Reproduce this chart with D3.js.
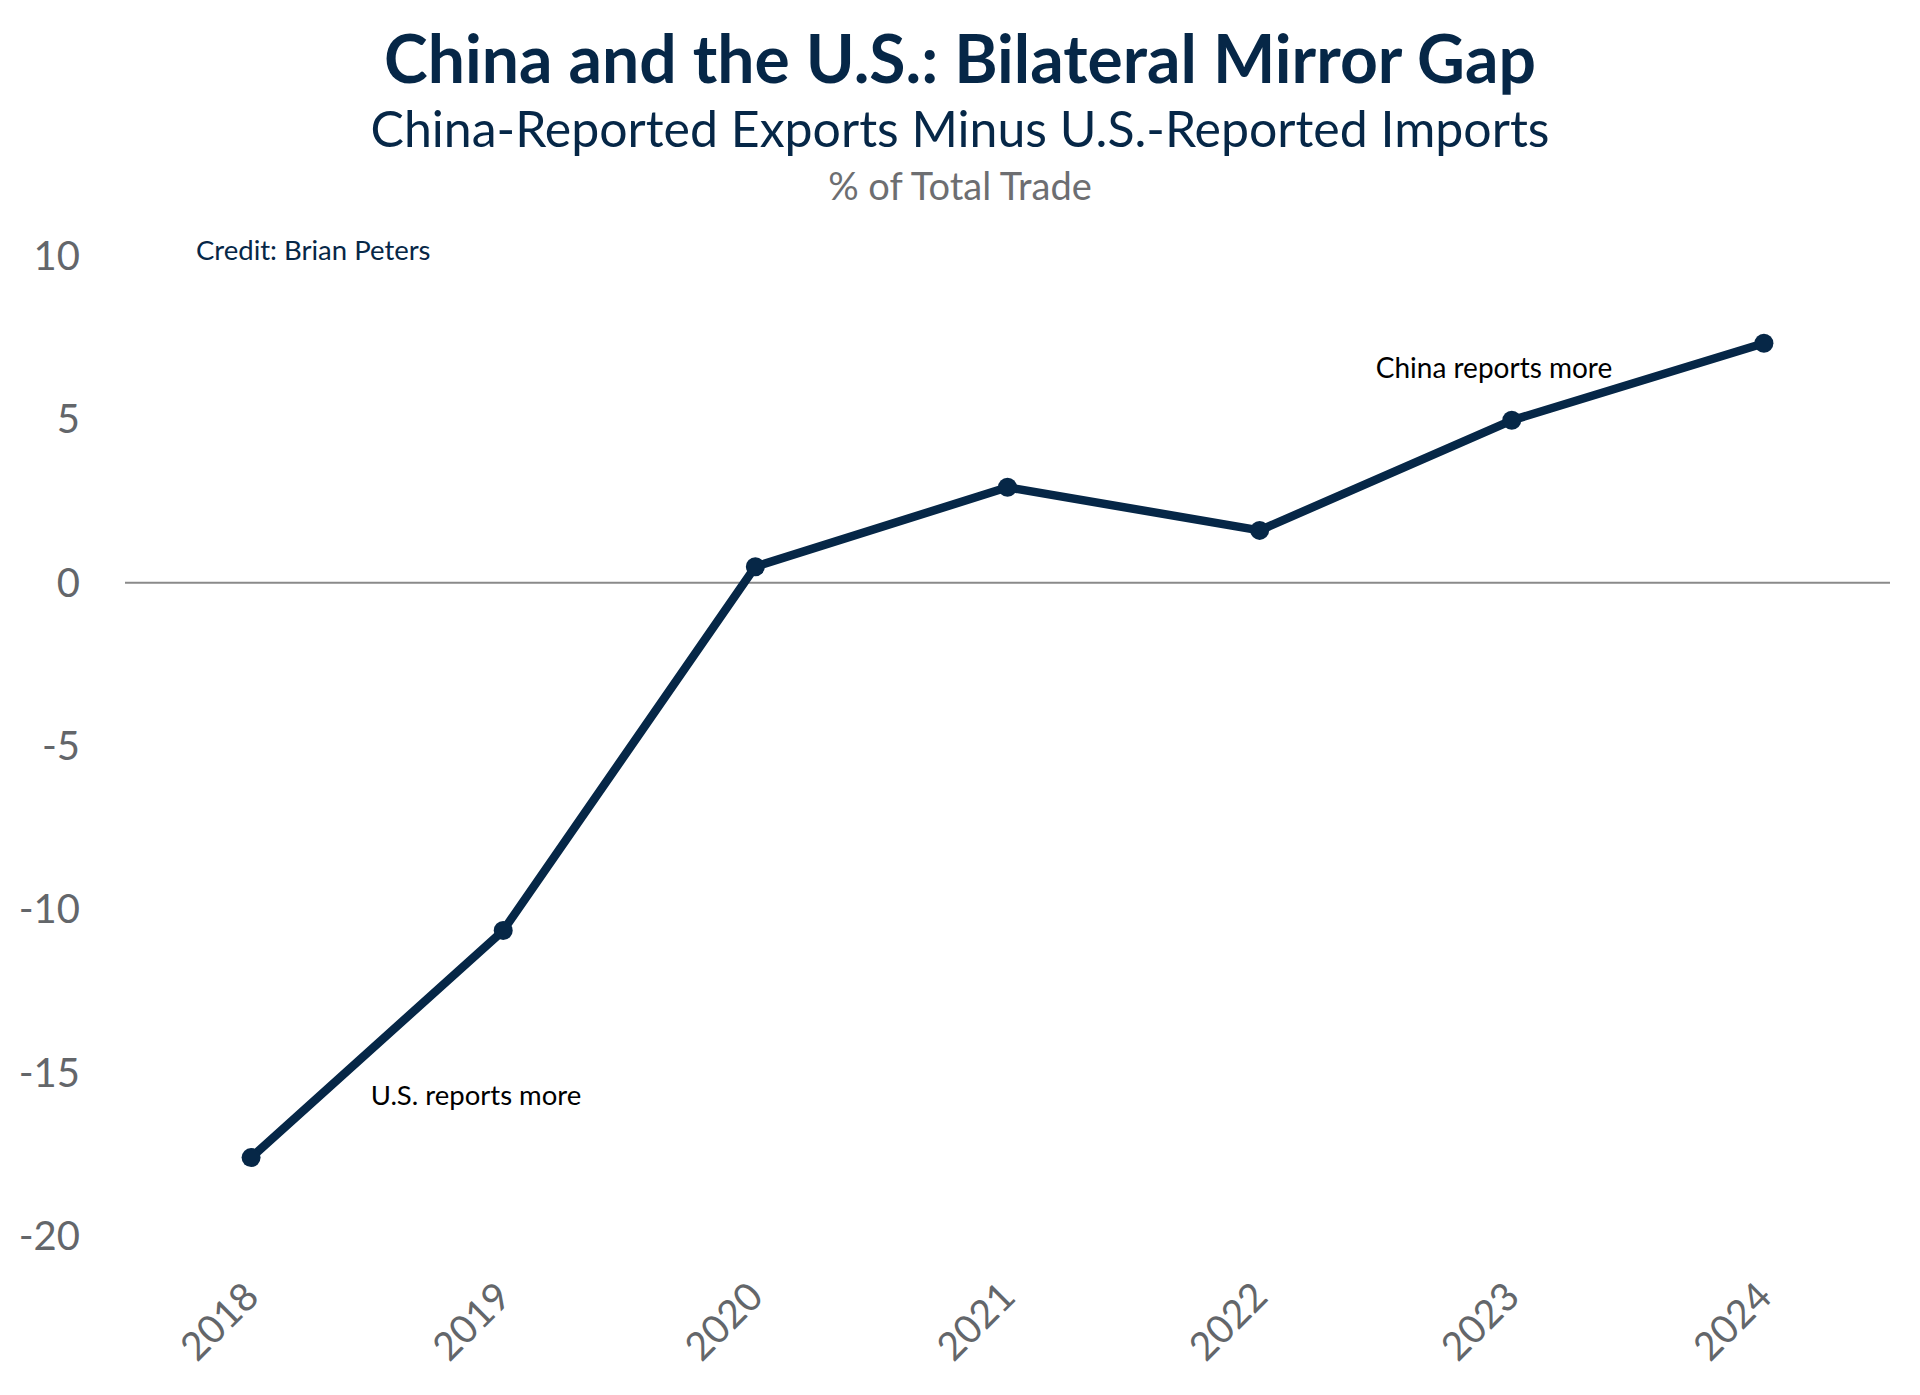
<!DOCTYPE html>
<html>
<head>
<meta charset="utf-8">
<script src="https://cdn.jsdelivr.net/npm/d3@7"></script>
<style>
  body { margin: 0; background: #fff; }
  svg { display: block; font-family: Lato, "Noto Sans", sans-serif; }
</style>
</head>
<body>
<div id="chart"></div>
<script>
// data
const years = ["2018", "2019", "2020", "2021", "2022", "2023", "2024"];
const gapValues = [-17.6, -10.65, 0.49, 2.92, 1.6, 4.97, 7.33];
const yTicks = [10, 5, 0, -5, -10, -15, -20];

const width = 1920;
const height = 1395;
const navy = "#062747";
const gray = "#63666a";

const svg = d3.select("#chart")
    .append("svg")
        .attr("width", width)
        .attr("height", height);

const xScale = d3.scalePoint()
    .domain(years)
    .range([125, 1890])
    .padding(0.5);

const yScale = d3.scaleLinear()
    .domain([-20, 10])
    .range([1236, 256]);

// titles
svg.append("text")
    .attr("x", 960)
    .attr("y", 83)
    .attr("text-anchor", "middle")
    .attr("fill", navy)
    .style("font-size", "66px")
    .style("font-weight", 700)
    .text("China and the U.S.: Bilateral Mirror Gap");

svg.append("text")
    .attr("x", 960)
    .attr("y", 147)
    .attr("text-anchor", "middle")
    .attr("fill", navy)
    .style("font-size", "50px")
    .text("China-Reported Exports Minus U.S.-Reported Imports");

svg.append("text")
    .attr("x", 960)
    .attr("y", 200)
    .attr("text-anchor", "middle")
    .attr("fill", "#6d6e71")
    .style("font-size", "38px")
    .text("% of Total Trade");

svg.append("text")
    .attr("x", 196)
    .attr("y", 260)
    .attr("fill", navy)
    .style("font-size", "27.5px")
    .text("Credit: Brian Peters");

// y axis labels
svg.append("g")
    .selectAll("text")
    .data(yTicks)
    .join("text")
        .attr("x", 80)
        .attr("y", d => yScale(d))
        .attr("dy", "0.35em")
        .attr("text-anchor", "end")
        .attr("fill", gray)
        .style("font-size", "40px")
        .text(d => d);

// x axis labels, rotated
svg.append("g")
    .selectAll("text")
    .data(years)
    .join("text")
        .attr("transform", d => `translate(${xScale(d) + 10}, 1299) rotate(-45)`)
        .attr("text-anchor", "end")
        .attr("fill", gray)
        .style("font-size", "39px")
        .text(d => d);

// zero line
svg.append("line")
    .attr("x1", xScale.range()[0])
    .attr("x2", xScale.range()[1])
    .attr("y1", yScale(0))
    .attr("y2", yScale(0))
    .attr("stroke", "#8a8a8a")
    .attr("stroke-width", 2);

const points = years.map((year, i) => ({ year, value: gapValues[i] }));

const line = d3.line()
    .x(d => xScale(d.year))
    .y(d => yScale(d.value));

svg.append("path")
    .datum(points)
    .attr("d", line)
    .attr("fill", "none")
    .attr("stroke", navy)
    .attr("stroke-width", 8.5)
    .attr("stroke-linejoin", "round");

svg.append("g")
    .selectAll("circle")
    .data(points)
    .join("circle")
        .attr("cx", d => xScale(d.year))
        .attr("cy", d => yScale(d.value))
        .attr("r", 9.5)
        .attr("fill", navy);

// annotations
svg.append("text")
    .attr("x", 1494)
    .attr("y", 378)
    .attr("text-anchor", "middle")
    .attr("fill", "#000")
    .style("font-size", "28px")
    .text("China reports more");

svg.append("text")
    .attr("x", 476)
    .attr("y", 1105)
    .attr("text-anchor", "middle")
    .attr("fill", "#000")
    .style("font-size", "27.5px")
    .text("U.S. reports more");
</script>
</body>
</html>
